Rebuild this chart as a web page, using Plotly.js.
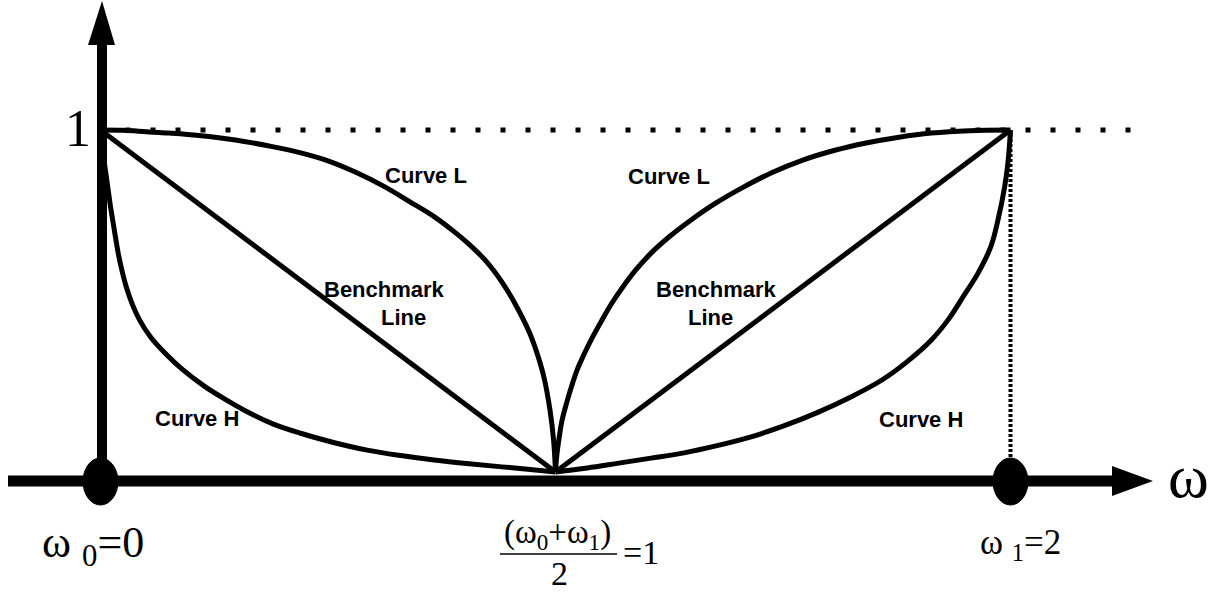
<!DOCTYPE html>
<html>
<head>
<meta charset="utf-8">
<script src="https://cdn.plot.ly/plotly-3.0.1.min.js"></script>
<style>html,body{margin:0;padding:0;background:#fff;}#chart{width:1218px;height:597px;}</style>
</head>
<body>
<div id="chart"></div>
<script>
// ---- data ----
const curveL_left_x  = [0, 0.05, 0.1, 0.15, 0.216, 0.3, 0.375, 0.438, 0.5, 0.56, 0.623, 0.68, 0.734, 0.775, 0.809, 0.845, 0.882, 0.912, 0.942, 0.96, 0.975, 0.988, 0.996, 1];
const curveL_left_y  = [1, 0.999, 0.995, 0.991, 0.984, 0.97, 0.952, 0.934, 0.91, 0.877, 0.835, 0.79, 0.746, 0.705, 0.667, 0.62, 0.556, 0.49, 0.41, 0.345, 0.275, 0.18, 0.09, 0];
const curveH_left_x  = [0, 0.004, 0.009, 0.016, 0.021, 0.0267, 0.0325, 0.0389, 0.047, 0.0567, 0.07, 0.086, 0.11, 0.1416, 0.18, 0.2304, 0.28, 0.3267, 0.38, 0.4378, 0.51, 0.586, 0.66, 0.7333, 0.81, 0.8822, 0.95, 1];
const curveH_left_y  = [1, 0.95, 0.9, 0.833, 0.785, 0.737, 0.69, 0.64, 0.59, 0.541, 0.49, 0.444, 0.395, 0.348, 0.3, 0.249, 0.208, 0.173, 0.14, 0.114, 0.087, 0.064, 0.048, 0.035, 0.024, 0.015, 0.0065, 0];
const curveL_right_x = [1, 1.003, 1.008, 1.0145, 1.024, 1.035, 1.048, 1.064, 1.082, 1.102, 1.123, 1.148, 1.176, 1.21, 1.252, 1.298, 1.352, 1.413, 1.475, 1.5435, 1.612, 1.6826, 1.755, 1.826, 1.91, 2];
const curveL_right_y = [0, 0.05, 0.1, 0.152, 0.2, 0.249, 0.3, 0.348, 0.396, 0.444, 0.492, 0.541, 0.59, 0.64, 0.69, 0.737, 0.786, 0.833, 0.875, 0.912, 0.94, 0.962, 0.979, 0.991, 0.998, 1];
const curveH_right_x = [1, 1.07, 1.139, 1.21, 1.2826, 1.355, 1.428, 1.5, 1.5739, 1.647, 1.7174, 1.775, 1.8261, 1.864, 1.8957, 1.928, 1.9565, 1.973, 1.987, 1.994, 1.998, 2];
const curveH_right_y = [0, 0.012, 0.026, 0.0405, 0.056, 0.077, 0.102, 0.134, 0.173, 0.218, 0.269, 0.325, 0.386, 0.447, 0.512, 0.58, 0.658, 0.74, 0.833, 0.9, 0.96, 1];
const bench_left_x   = [0, 1];
const bench_left_y   = [1, 0];
const bench_right_x  = [1, 2];
const bench_right_y  = [0, 1];
const refH_x = [0, 2.29];
const refH_y = [1, 1];
const refV_x = [2, 2];
const refV_y = [0, 1];
const keyPoints_x = [0, 2];
const keyPoints_y = [0, 0];

// ---- pixel helpers (layout only) ----
const X0PX = 100.5, XS = 455, Y0PX = 472, YS = 342;
const X = px => (px - X0PX) / XS;
const Y = py => (Y0PX - py) / YS;

const lineStyle = {color: '#000', width: 5};
function curve(x, y, shape) {
  return {x: x, y: y, type: 'scatter', mode: 'lines', line: Object.assign({shape: shape || 'spline', smoothing: 1}, lineStyle), hoverinfo: 'skip'};
}

const traces = [
  {x: refH_x, y: refH_y, type: 'scatter', mode: 'lines', line: {color: '#000', width: 5, dash: '5px,20px'}, hoverinfo: 'skip'},
  {x: refV_x, y: refV_y, type: 'scatter', mode: 'lines', line: {color: '#000', width: 4, dash: '3px,2px'}, hoverinfo: 'skip'},
  curve(curveL_left_x, curveL_left_y),
  curve(curveH_left_x, curveH_left_y),
  curve(curveL_right_x, curveL_right_y),
  curve(curveH_right_x, curveH_right_y),
  curve(bench_left_x, bench_left_y, 'linear'),
  curve(bench_right_x, bench_right_y, 'linear')
];

const axY = Y(481);
const shapes = [
  // y axis
  {type: 'line', x0: X(102), x1: X(102), y0: axY, y1: Y(44), line: {color: '#000', width: 10}},
  {type: 'path', path: `M ${X(88)} ${Y(45)} L ${X(115)} ${Y(45)} L ${X(102)} ${Y(1)} Z`, fillcolor: '#000', line: {width: 0}},
  // x axis
  {type: 'line', x0: X(8), x1: X(1116), y0: axY, y1: axY, line: {color: '#000', width: 11}},
  {type: 'path', path: `M ${X(1112)} ${Y(466)} L ${X(1112)} ${Y(496)} L ${X(1153)} ${Y(481)} Z`, fillcolor: '#000', line: {width: 0}},
  // fraction bar
  {type: 'line', x0: X(500), x1: X(617), y0: Y(554), y1: Y(554), line: {color: '#000', width: 1.5}}
];
keyPoints_x.forEach((kx, i) => {
  shapes.push({type: 'circle', xref: 'x', yref: 'y', x0: kx - 17.5 / XS, x1: kx + 17.5 / XS,
    y0: keyPoints_y[i] + Y(505), y1: keyPoints_y[i] + Y(458), fillcolor: '#000', line: {color: '#000', width: 1}});
});

const serif = 'Liberation Serif, Times New Roman, serif';
const sans = 'Liberation Sans, Arial, sans-serif';
function ann(text, px, py, size, family, weight, xanchor) {
  return {text: text, x: X(px), y: Y(py), xref: 'x', yref: 'y', showarrow: false,
    xanchor: xanchor || 'center', yanchor: 'middle',
    font: {family: family, size: size, color: '#000', weight: weight || 'normal'}};
}
const annotations = [
  ann('1', 78, 128, 52, serif),
  ann('ω', 1188, 476, 62, serif),
  ann('ω <sub>0</sub>=0', 93, 545, 44, serif),
  ann('ω <sub>1</sub>=2', 1020, 544, 35, serif),
  ann('(ω<sub>0</sub>+ω<sub>1</sub>)', 557, 534, 33, serif),
  ann('2', 559, 573, 34, serif),
  ann('=1', 621, 552, 34, serif, 'normal', 'left'),
  ann('Curve L', 426, 175, 22, sans, 'bold'),
  ann('Curve L', 669, 176, 22, sans, 'bold'),
  ann('Benchmark', 384, 289, 22, sans, 'bold'),
  ann('Line', 403, 317, 22, sans, 'bold'),
  ann('Benchmark', 716, 289, 22, sans, 'bold'),
  ann('Line', 710, 317, 22, sans, 'bold'),
  ann('Curve H', 197, 418, 22, sans, 'bold'),
  ann('Curve H', 921, 419, 22, sans, 'bold')
];

const layout = {
  width: 1218, height: 597,
  margin: {l: 0, r: 0, t: 0, b: 0},
  paper_bgcolor: '#fff', plot_bgcolor: '#fff',
  showlegend: false, hovermode: false,
  xaxis: {range: [X(0), X(1218)], visible: false, fixedrange: true},
  yaxis: {range: [Y(597), Y(0)], visible: false, fixedrange: true},
  shapes: shapes,
  annotations: annotations
};

Plotly.newPlot('chart', traces, layout, {staticPlot: true, displayModeBar: false});
</script>
</body>
</html>
